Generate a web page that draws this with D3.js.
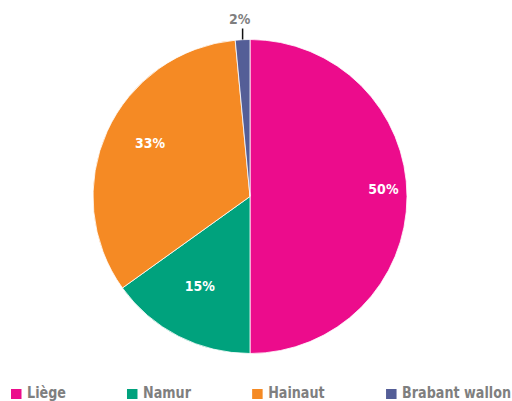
<!DOCTYPE html>
<html><head><meta charset="utf-8">
<script src="https://cdn.jsdelivr.net/npm/d3@7"></script>
<style>
html,body{margin:0;padding:0;background:#fff;}
svg{display:block;}
text{font-family:'Liberation Sans Narrow','DejaVu Sans Condensed',sans-serif;font-weight:bold;}
</style></head>
<body>
<svg id="chart" width="512" height="401"></svg>
<script>
const categories = ["Liège", "Namur", "Hainaut", "Brabant wallon"];
const values = [50, 15.1, 33.4, 1.5];
const colors = ["#EC0C8C", "#00A27D", "#F58A24", "#545E97"];

const W = 512, H = 401;
const cx = 250, cy = 196.5, R = 157;
const svg = d3.select("#chart");

const data = categories.map((c, i) => ({name: c, value: values[i], color: colors[i]}));
const pie = d3.pie().sort(null).value(d => d.value);
const arcs = pie(data);
const arc = d3.arc().innerRadius(0).outerRadius(R);

const g = svg.append("g").attr("transform", `translate(${cx},${cy})`);
g.selectAll("path").data(arcs).join("path")
  .attr("d", arc)
  .attr("fill", d => d.data.color)
  .attr("stroke", "#fff")
  .attr("stroke-width", 0.8);

const total = d3.sum(values);
const pct = d => Math.round(d.data.value / total * 100) + "%";

arcs.forEach(d => {
  const share = d.data.value / total;
  const a = (d.startAngle + d.endAngle) / 2;
  if (share < 0.05) {
    const x = Math.sin(a) * R;
    g.append("line")
      .attr("x1", x).attr("x2", x)
      .attr("y1", -R).attr("y2", -R - 11)
      .attr("stroke", "#111").attr("stroke-width", 1.5);
    g.append("text")
      .attr("x", x - 3).attr("y", -R - 15.5)
      .attr("text-anchor", "middle")
      .attr("font-size", 14)
      .attr("fill", "#7f7f7f")
      .text(pct(d));
  } else {
    const r = share >= 0.45 ? R * 0.85 : R * 0.7;
    const x = Math.sin(a) * r;
    const y = -Math.cos(a) * r - 8;
    g.append("text")
      .attr("x", x).attr("y", y + 5)
      .attr("text-anchor", "middle")
      .attr("font-size", 14)
      .attr("fill", "#fff")
      .text(pct(d));
  }
});

// legend, space-between from x=11 to x=511
const legend = svg.append("g");
const items = legend.selectAll("g").data(data).join("g");
items.append("rect")
  .attr("x", 0).attr("y", 389)
  .attr("width", 10.5).attr("height", 10)
  .attr("fill", d => d.color);
items.append("text")
  .attr("transform", "translate(16,398) scale(0.86,1)")
  .attr("font-size", 16.5)
  .attr("fill", "#7f7f7f")
  .text(d => d.name);
const widths = [];
items.each(function() { widths.push(this.getBBox().width); });
const left = 11, right = 511;
const gap = (right - left - d3.sum(widths)) / (widths.length - 1);
let xPos = left;
items.each(function(d, i) {
  d3.select(this).attr("transform", `translate(${xPos},0)`);
  xPos += widths[i] + gap;
});
</script>
</body></html>
